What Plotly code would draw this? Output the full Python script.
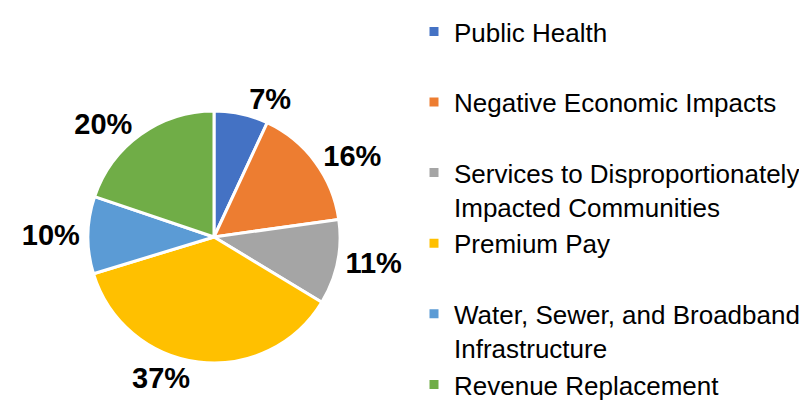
import plotly.graph_objects as go

categories = [
    "Public Health",
    "Negative Economic Impacts",
    "Services to Disproportionately<br>Impacted Communities",
    "Premium Pay",
    "Water, Sewer, and Broadband<br>Infrastructure",
    "Revenue Replacement",
]
values = [7, 16, 11, 37, 10, 20]
colors = ["#4472C4", "#ED7D31", "#A5A5A5", "#FFC000", "#5B9BD5", "#70AD47"]

# pad single-line legend entries (except the last) to two lines so every item takes the same height
legend_labels = [c if ("<br>" in c or i == len(categories) - 1) else c + "<br> "
                 for i, c in enumerate(categories)]

W, H = 807, 402
cx, cy, r = 206, 229, 126

fig = go.Figure(go.Pie(
    labels=legend_labels,
    values=values,
    sort=False,
    direction="clockwise",
    rotation=0,
    marker=dict(colors=colors, line=dict(color="white", width=3)),
    textposition="outside",
    texttemplate="%{value}%",
    textfont=dict(family="Liberation Sans, Arial", size=29, color="black", weight="bold"),
    outsidetextfont=dict(family="Liberation Sans, Arial", size=29, color="black", weight="bold"),
    domain=dict(x=[(cx - r) / W, (cx + r) / W], y=[(H - cy - r) / H, (H - cy + r) / H]),
    hoverinfo="label+percent",
))

fig.update_layout(
    width=W, height=H,
    margin=dict(l=0, r=0, t=0, b=0),
    paper_bgcolor="white",
    plot_bgcolor="white",
    font=dict(family="Liberation Sans, Arial", color="black"),
    showlegend=True,
    legend=dict(
        x=406 / W, xanchor="left",
        y=1.0, yanchor="top",
        valign="top",
        maxheight=2000,
        font=dict(family="Liberation Sans, Arial", size=26, color="black"),
        bgcolor="rgba(0,0,0,0)",
    ),
)

fig.write_html("out.html")
